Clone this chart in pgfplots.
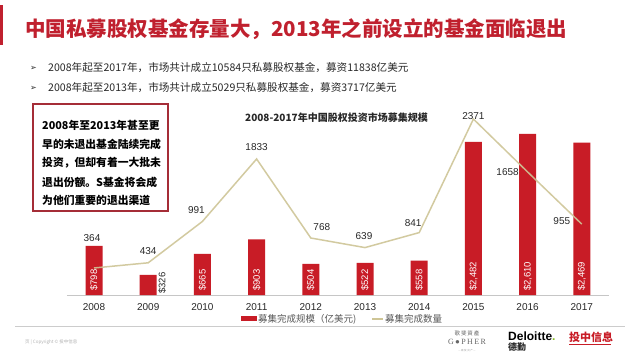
\documentclass[border=0pt]{standalone}
\usepackage{pgfplots}
\pgfplotsset{compat=1.18}
\usepackage{fontspec}
\setmainfont{Noto Sans CJK SC}
\newfontfamily\arial{Liberation Sans}
\newfontfamily\tnr{Liberation Serif}
\newfontfamily\dejavu{DejaVu Sans}
\definecolor{barred}{RGB}{200,28,38}
\definecolor{titlered}{RGB}{192,32,46}
\definecolor{boxred}{RGB}{165,45,55}
\definecolor{khaki}{RGB}{206,197,150}
\definecolor{txt}{RGB}{40,40,40}
\definecolor{dgreen}{RGB}{134,188,37}
\newcommand{\fsz}[1]{\fontsize{#1}{#1}\selectfont}

\pgfplotstableread{
x bars count
0 798 364
1 326 434
2 665 991
3 903 1833
4 504 768
5 522 639
6 558 841
7 2482 2371
8 2610 1658
9 2469 955
}\datatable

\begin{document}
\begin{tikzpicture}[x=1pt,y=1pt]
\fill[white] (0,0) rectangle (640,360);
% left red marker
\fill[titlered] (0,315) rectangle (3,355);
% title
\node[anchor=west, text=titlered, inner sep=0] at (25,331) {\fsz{20.5}\bfseries 中国私募股权基金存量大，2013年之前设立的基金面临退出};
% bullets
\node[anchor=west, inner sep=0, text=txt] at (30,292) {\dejavu\fsz{8}➢};
\node[anchor=west, inner sep=0, text=txt] at (30,272) {\dejavu\fsz{8}➢};
\node[anchor=west, inner sep=0, text=txt] at (48,292) {\fsz{10.6}2008年起至2017年，市场共计成立10584只私募股权基金，募资11838亿美元};
\node[anchor=west, inner sep=0, text=txt] at (48,272) {\fsz{10.6}2008年起至2013年，市场共计成立5029只私募股权基金，募资3717亿美元};
% text box
\draw[boxred, line width=1.3] (33,149) rectangle (168,256);
\node[anchor=west, inner sep=0] at (42,235) {\fsz{10.8}\bfseries 2008年至2013年甚至更};
\node[anchor=west, inner sep=0] at (42,216) {\fsz{10.8}\bfseries 早的未退出基金陆续完成};
\node[anchor=west, inner sep=0] at (42,197) {\fsz{10.8}\bfseries 投资，但却有着一大批未};
\node[anchor=west, inner sep=0] at (42,178) {\fsz{10.8}\bfseries 退出份额。S基金将会成};
\node[anchor=west, inner sep=0] at (42,160) {\fsz{10.8}\bfseries 为他们重要的退出渠道};
% chart title
\node[anchor=west, inner sep=0, text=txt] at (245,242) {\fsz{10}\bfseries 2008-2017年中国股权投资市场募集规模};

% bars axis
\begin{axis}[
  at={(94pt,65pt)}, anchor=origin,
  scale only axis, width=542pt, height=200pt,
  xmin=-0.5, xmax=9.5, ymin=0, ymax=3241,
  axis x line*=bottom, axis y line=none,
  x axis line style={draw=gray!45, line width=0.8pt, -},
  xtick={0,...,9},
  xticklabels={2008,2009,2010,2011,2012,2013,2014,2015,2016,2017},
  major tick length=0pt,
  xticklabel style={font=\arial\fsz{10}, text=txt, yshift=-5pt},
  clip=false,
]
\addplot[ybar, bar width=17pt, fill=barred, draw=none] table[x=x, y=bars] {\datatable};
\tikzset{bl/.style={rotate=90, anchor=west, inner xsep=4pt, text=white, font=\arial\fsz{9.5}}}
\node[bl] at (axis cs:0,0) {\$798};
\node[bl, text=txt, inner xsep=1pt] at (axis cs:1.26,0) {\$326};
\node[bl] at (axis cs:2,0) {\$665};
\node[bl] at (axis cs:3,0) {\$903};
\node[bl] at (axis cs:4,0) {\$504};
\node[bl] at (axis cs:5,0) {\$522};
\node[bl] at (axis cs:6,0) {\$558};
\node[bl] at (axis cs:7,0) {\$2,482};
\node[bl] at (axis cs:8,0) {\$2,610};
\node[bl] at (axis cs:9,0) {\$2,469};
\end{axis}

% line axis
\begin{axis}[
  at={(94pt,65pt)}, anchor=origin,
  scale only axis, width=542pt, height=200pt,
  xmin=-0.5, xmax=9.5, ymin=0, ymax=2695,
  axis lines=none, clip=false,
]
\addplot[khaki, line width=1.5pt, opacity=0.9, no markers] table[x=x, y=count] {\datatable};
\tikzset{ll/.style={text=txt, font=\arial\fsz{10}, inner sep=0}}
\path (axis cs:0,364) ++(-2pt,30pt) node[ll] {364};
\path (axis cs:1,434) ++(0pt,12pt) node[ll] {434};
\path (axis cs:2,991) ++(-6pt,11.5pt) node[ll] {991};
\path (axis cs:3,1833) ++(0pt,12pt) node[ll] {1833};
\path (axis cs:4,768) ++(11pt,11pt) node[ll] {768};
\path (axis cs:5,639) ++(-1pt,11.6pt) node[ll] {639};
\path (axis cs:6,841) ++(-6pt,9.6pt) node[ll] {841};
\path (axis cs:7,2371) ++(0pt,3pt) node[ll] {2371};
\path (axis cs:8,1658) ++(-20pt,0pt) node[ll] {1658};
\path (axis cs:9,955) ++(-20pt,3pt) node[ll] {955};
\end{axis}

% legend
\fill[barred] (241,39) rectangle (257,44);
\node[anchor=west, inner sep=0, text=gray!70!black] at (258,41) {\fsz{9.5}募集完成规模（亿美元)};
\draw[khaki, line width=1.5pt] (372,41) -- (383,41);
\node[anchor=west, inner sep=0, text=gray!70!black] at (385,41) {\fsz{9.5}募集完成数量};
% separator
\draw[gray!40, line width=0.8pt] (15,34) -- (625,34);
% footer
\node[anchor=west, inner sep=0, text=gray!60] at (25,18) {\fsz{4.5}页 | Copyright © 投中信息};
% logos
\node[inner sep=0, text=gray!80!black] at (467,27) {\fsz{5.5}歌\,斐\,資\,產};
\node[inner sep=0, text=gray!80!black] at (467,18) {\tnr\fsz{8}G\,●\,P\,H\,E\,R};
\node[inner sep=0, text=gray!70] at (467,9) {\fsz{2.5}— 歌 斐 资 产 —};
\node[anchor=west, inner sep=0] at (508,24) {\arial\bfseries\fsz{12}Deloitte\textcolor{dgreen}{.}};
\node[anchor=west, inner sep=0, text=txt] at (508,13) {\fsz{9}\bfseries 德勤};
\node[anchor=west, inner sep=0, text=barred] at (569,23) {\fsz{11}\bfseries 投中信息};
\fill[barred] (569,15) rectangle (611,16.5);
\end{tikzpicture}
\end{document}
